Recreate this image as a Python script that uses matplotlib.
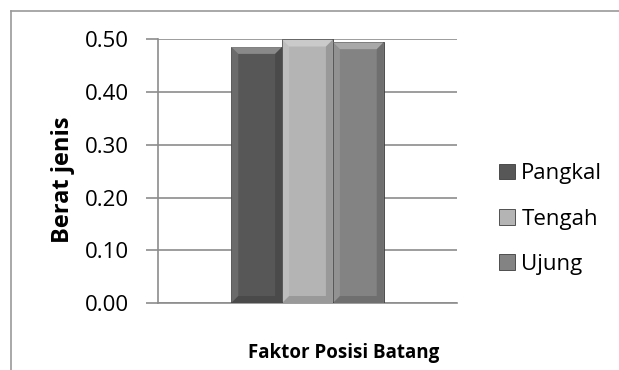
import matplotlib.pyplot as plt
from matplotlib.patches import Polygon

categories = ["Pangkal", "Tengah", "Ujung"]
values = [0.486, 0.500, 0.495]
colors = ["#575757", "#b4b4b4", "#838383"]
yticks = [0.00, 0.10, 0.20, 0.30, 0.40, 0.50]

plt.rcParams['font.family'] = ['Open Sans', 'DejaVu Sans']

fig = plt.figure(figsize=(6.19, 3.70), dpi=100)
ax = fig.add_axes([158 / 619, 1 - 303 / 370, (457 - 158) / 619, (303 - 39.5) / 370])

# outer chart border (only top and left are visible)
fig.add_artist(plt.Line2D([11 / 619, 11 / 619], [0, 1 - 11 / 370], transform=fig.transFigure,
                          color="#9a9a9a", lw=1.2))
fig.add_artist(plt.Line2D([11 / 619, 1], [1 - 11 / 370, 1 - 11 / 370], transform=fig.transFigure,
                          color="#9a9a9a", lw=1.2))

w = 0.17
bx = 7 / 299          # bevel size in data units (x)
by = 7 / 263.5 * 0.5  # bevel size in data units (y)


def bevel(x0, x1, top):
    # top light, left light, right dark, bottom dark
    faces = [
        ([(x0, top), (x1, top), (x1 - bx, top - by), (x0 + bx, top - by)], "white", 0.30),
        ([(x0, 0), (x0, top), (x0 + bx, top - by), (x0 + bx, by)], "white", 0.12),
        ([(x1, 0), (x1, top), (x1 - bx, top - by), (x1 - bx, by)], "black", 0.15),
        ([(x0, 0), (x1, 0), (x1 - bx, by), (x0 + bx, by)], "black", 0.15),
    ]
    for pts, c, a in faces:
        ax.add_patch(Polygon(pts, closed=True, color=c, alpha=a, lw=0, zorder=4))


for i, (cat, v, c) in enumerate(zip(categories, values, colors)):
    x = (i - 1) * w
    ax.bar(x, v, width=w, color=c, edgecolor="#3c3c3c", linewidth=0.6, label=cat, zorder=3)
    bevel(x - w / 2, x + w / 2, v)

ax.set_xlim(-0.5, 0.5)
ax.set_ylim(0, 0.5)
ax.set_yticks(yticks)
ax.set_yticklabels([f"{t:.2f}" for t in yticks], fontsize=16)
ax.set_xticks([])
ax.yaxis.grid(True, color="#8c8c8c", lw=1.2, zorder=0)
ax.tick_params(axis='y', length=9, color="#8c8c8c", width=1.2, pad=12)
for s in ["top", "right"]:
    ax.spines[s].set_visible(False)
for s in ["left", "bottom"]:
    ax.spines[s].set_color("#8c8c8c")
    ax.spines[s].set_linewidth(1.2)

ax.set_ylabel("Berat jenis", fontsize=17, fontweight="bold")
ax.yaxis.set_label_coords(-0.278, 0.467)
ax.set_xlabel("Faktor Posisi Batang", fontsize=13.5, fontweight="bold")
ax.xaxis.set_label_coords(0.622, -0.152)

ax.legend(loc="center left", bbox_to_anchor=(488 / 619, 1 - 219 / 370),
          bbox_transform=fig.transFigure, frameon=False, fontsize=16,
          handlelength=0.7, handleheight=0.7, handletextpad=0.3, labelspacing=1.1,
          borderpad=0)

fig.savefig("out.png", dpi=100)
